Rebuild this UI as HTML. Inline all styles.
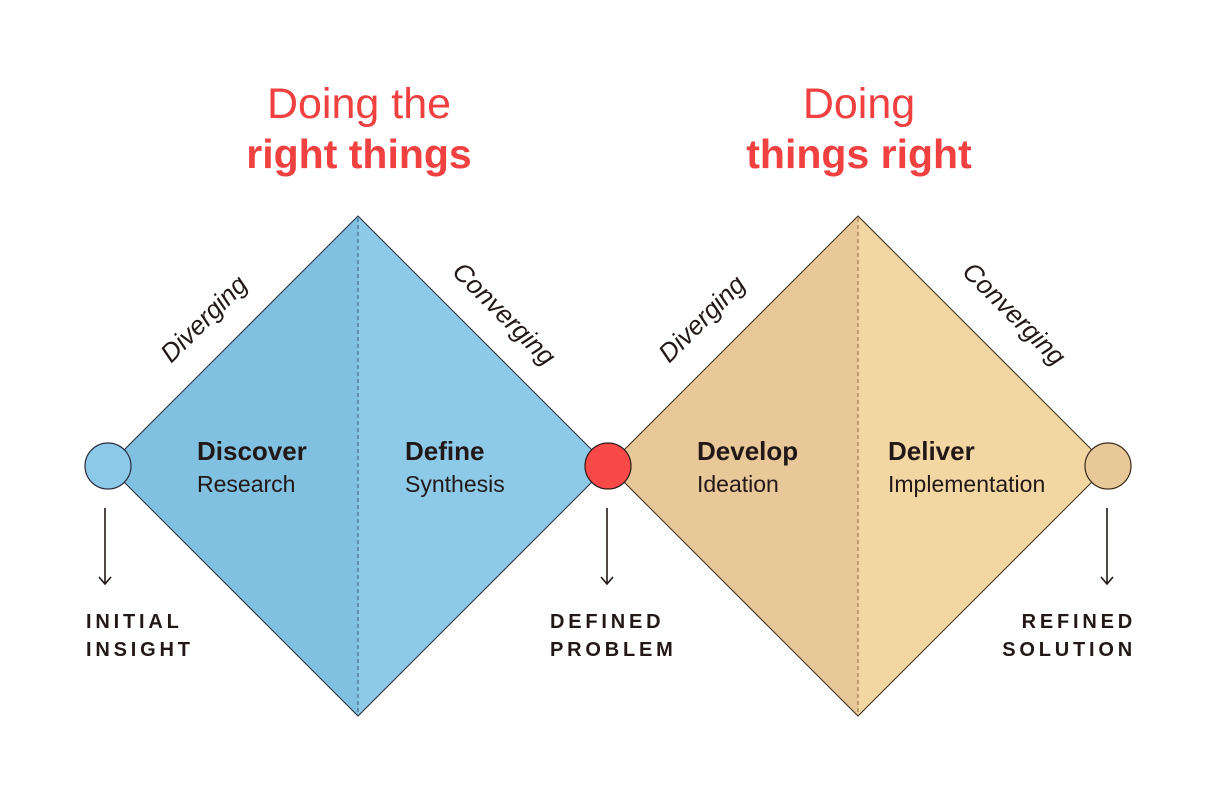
<!DOCTYPE html>
<html><head><meta charset="utf-8"><style>
html,body{margin:0;padding:0;background:#fff;}
svg{display:block;}
text{font-family:"Liberation Sans",sans-serif;}
</style></head><body>
<svg width="1216" height="800" viewBox="0 0 1216 800" xmlns="http://www.w3.org/2000/svg">
<rect width="1216" height="800" fill="#fff"/>
<polygon points="108,466 358,216 358,716" fill="#80c0e0"/>
<polygon points="358,216 608,466 358,716" fill="#8ccae8"/>
<polygon points="108,466 358,216 608,466 358,716" fill="none" stroke="#2a2a3a" stroke-width="1"/>
<line x1="358" y1="218" x2="358" y2="714" stroke="#4a6a88" stroke-width="1.2" stroke-dasharray="4,3"/>
<polygon points="608,466 858,216 858,716" fill="#e8c898"/>
<polygon points="858,216 1108,466 858,716" fill="#f3d7a3"/>
<polygon points="608,466 858,216 1108,466 858,716" fill="none" stroke="#3a2a1a" stroke-width="1"/>
<line x1="858" y1="218" x2="858" y2="714" stroke="#9a7a50" stroke-width="1.2" stroke-dasharray="4,3"/>
<circle cx="108" cy="466" r="23" fill="#8cc8e8" stroke="#2a2a3a" stroke-width="1.2"/>
<circle cx="608" cy="466" r="23" fill="#f84848" stroke="#2a1a1a" stroke-width="1.2"/>
<circle cx="1108" cy="466" r="23" fill="#e8c898" stroke="#3a2a1a" stroke-width="1.2"/>
<g stroke="#231818" stroke-width="1.6" fill="none">
<line x1="105" y1="508" x2="105" y2="584"/><polyline points="99,577 105,584 111,577"/>
<line x1="607" y1="508" x2="607" y2="584"/><polyline points="601,577 607,584 613,577"/>
<line x1="1107" y1="508" x2="1107" y2="584"/><polyline points="1101,577 1107,584 1113,577"/>
</g>
<g fill="#f04040" text-anchor="middle">
<text x="359" y="118" font-size="43">Doing the</text>
<text x="359" y="168" font-size="41" font-weight="bold">right things</text>
<text x="859" y="118" font-size="43">Doing</text>
<text x="859" y="168" font-size="41" font-weight="bold">things right</text>
</g>
<g fill="#231818" font-size="26" font-style="italic" text-anchor="middle">
<text transform="translate(210,325) rotate(-45)">Diverging</text>
<text transform="translate(498,320) rotate(45)">Converging</text>
<text transform="translate(708,325) rotate(-45)">Diverging</text>
<text transform="translate(1008,320) rotate(45)">Converging</text>
</g>
<g fill="#231818">
<text x="197" y="460" font-size="26" font-weight="bold">Discover</text>
<text x="197" y="492" font-size="23">Research</text>
<text x="405" y="460" font-size="26" font-weight="bold">Define</text>
<text x="405" y="492" font-size="23">Synthesis</text>
<text x="697" y="460" font-size="26" font-weight="bold">Develop</text>
<text x="697" y="492" font-size="23">Ideation</text>
<text x="888" y="460" font-size="26" font-weight="bold">Deliver</text>
<text x="888" y="492" font-size="23">Implementation</text>
</g>
<g fill="#231818" font-size="20" font-weight="bold" letter-spacing="3.8">
<text x="86" y="628">INITIAL</text>
<text x="86" y="656">INSIGHT</text>
<text x="550" y="628">DEFINED</text>
<text x="550" y="656">PROBLEM</text>
<text x="1136" y="628" text-anchor="end">REFINED</text>
<text x="1136" y="656" text-anchor="end">SOLUTION</text>
</g>
</svg>
</body></html>
